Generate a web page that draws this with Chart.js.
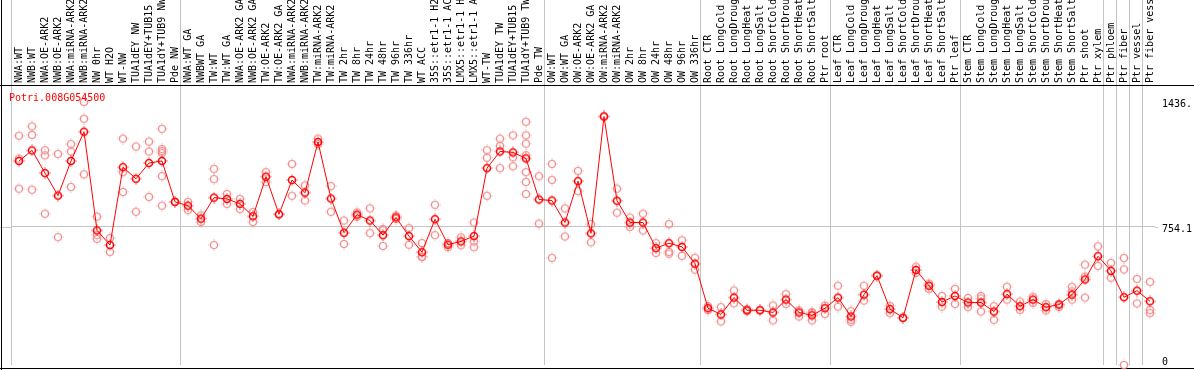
<!DOCTYPE html>
<html>
<head>
<meta charset="utf-8">
<script src="https://cdn.jsdelivr.net/npm/chart.js@4.4.1/dist/chart.umd.min.js"></script>
<style>
html,body{margin:0;padding:0;background:#fff;overflow:hidden;}
canvas{display:block;}
</style>
</head>
<body>
<canvas id="c" width="1194" height="370"></canvas>
<script>
// ---------- data ----------
const chartTitle = 'Potri.008G054500';

const categories = [
  'NWA:WT','NWB:WT','NWA:OE-ARK2','NWB:OE-ARK2','NWA:miRNA-ARK2','NWB:miRNA-ARK2',
  'NW 0hr','WT H2O','WT-NW','TUA1dEY NW','TUA1dEY+TUB15 NW','TUA1dY+TUB9 NW','Pde NW',
  'NWA:WT GA','NWBWT GA','TW:WT','TW:WT GA','NWA:OE-ARK2 GA','NWB:OE-ARK2 GA','TW:OE-ARK2','TW:OE-ARK2 GA',
  'NWA:miRNA-ARK2 GA','NWB:miRNA-ARK2 GA','TW:miRNA-ARK2','TW:miRNA-ARK2 GA',
  'TW 2hr','TW 8hr','TW 24hr','TW 48hr','TW 96hr','TW 336hr',
  'WT ACC','35S::etr1-1 H2O','35S::etr1-1 ACC','LMX5::etr1-1 H2O','LMX5::etr1-1 ACC',
  'WT-TW','TUA1dEY TW','TUA1dEY+TUB15 TW','TUA1dY+TUB9 TW','Pde TW',
  'OW:WT','OW:WT GA','OW:OE-ARK2','OW:OE-ARK2 GA','OW:miRNA-ARK2','OW:miRNA-ARK2 GA',
  'OW 2hr','OW 8hr','OW 24hr','OW 48hr','OW 96hr','OW 336hr',
  'Root CTR','Root LongCold','Root LongDrought','Root LongHeat','Root LongSalt',
  'Root ShortCold','Root ShortDrought','Root ShortHeat','Root ShortSalt','Ptr root',
  'Leaf CTR','Leaf LongCold','Leaf LongDrought','Leaf LongHeat','Leaf LongSalt',
  'Leaf ShortCold','Leaf ShortDrought','Leaf ShortHeat','Leaf ShortSalt','Ptr leaf',
  'Stem CTR','Stem LongCold','Stem LongDrought','Stem LongHeat','Stem LongSalt',
  'Stem ShortCold','Stem ShortDrought','Stem ShortHeat','Stem ShortSalt','Ptr shoot',
  'Ptr xylem','Ptr phloem','Ptr fiber','Ptr vessel','Ptr fiber vessel'
];

const meanValues = [
  1114,1172,1048,925,1114,1274,735,655,1080,1017,1103,1114,891,
  870,799,914,907,880,812,1028,823,
  1010,941,1218,909,
  722,821,789,709,806,704,
  616,796,657,675,704,
  1075,1166,1161,1128,904,
  898,778,1004,719,1357,897,
  778,778,638,665,645,553,
  310,276,368,299,299,287,357,287,271,310,
  368,265,384,488,305,258,519,433,344,377,
  341,341,292,387,321,357,316,330,384,467,
  594,514,370,406,348
];

const replicateValues = [
  [1252,963,1127],[1303,1256,957],[1173,1145,826],[1152,698],[1206,1166,972],[1436,1345,1041],
  [810,711,689],[693,618],[1236,1053,945],[1193,837],[1220,1166,918],[1290,1179,1168,1157,1031,870],[891],
  [891,846],[817,781],[1071,1015,655],[934,880],[907,851],[835,781],[1053,999],[823],
  [1098,924],[981,898],[1236,1206],[977,837],
  [789,661],[833,810],[855,720],[742,736,650],[816,797],[747,657],
  [666,591,591],[875,709],[666,643],[697,654],[778,675,643],
  [1173,1132,924],[1236,1196,1075],[1254,1134,1085],[1328,1254,1209,1146,1053,999,934],[1031,772],
  [1098,1011,585],[855,702],[1060,950],[769,670],[1357],[963,832],
  [805,754],[826,735],[665,612],[769,608,618],[681,596],[585,521],
  [321,299],[316,238],[407,337],[305,294],[299],[325,244],[387,333],[298,265],[283,244,289],[325,279],
  [433,319],[294,247,236],[433,352],[488],[323,283],[258],[537,503],[445,414],[377,319],[416,333],
  [366,316],[377,363,292],[321,247],[427,357],[346,301],[373,339],[298,333],[333,316],[427,402,357],[548,483,368],
  [648,541],[558,477],[584,522,0],[470,336],[454,301,283]
];

// first category index after each group separator (plus left and right edges)
const separatorIndices = [0,13,41,53,63,73,84,85,86,87,88];
const yTickValues = [0, 754.1, 1436];
const yTickLabels = ['0', '754.1', '1436.'];
const yMax = 1529;

// ---------- marker images ----------
function makeMarker(color, lw) {
  const c = document.createElement('canvas');
  c.width = 12; c.height = 12;
  const g = c.getContext('2d');
  g.strokeStyle = color; g.lineWidth = lw;
  g.beginPath(); g.arc(6, 6, 3.5, 0, Math.PI * 2); g.stroke();
  g.fillStyle = color;
  g.fillRect(5.5, 0.5, 1, 1); g.fillRect(5.5, 10.5, 1, 1);
  g.fillRect(0.5, 5.5, 1, 1); g.fillRect(10.5, 5.5, 1, 1);
  return c;
}
const meanMarker = makeMarker('#ff0000', 1.5);
const repMarker = makeMarker('#f08a8a', 1.2);

const meanPoints = meanValues.map((v, i) => ({x: i, y: v}));
const repPoints = [];
replicateValues.forEach((arr, i) => arr.forEach(v => repPoints.push({x: i, y: v})));

const sepSet = new Set(separatorIndices);
const GRID = '#c4c4c4';
const MONO = "'DejaVu Sans Mono', 'Liberation Mono', monospace";

const decorPlugin = {
  id: 'decor',
  beforeDatasetsDraw(chart) {
    const ctx = chart.ctx;
    const ys = chart.scales.y;
    const ca = chart.chartArea;
    ctx.save();
    const gy = Math.round(ys.getPixelForValue(754.1)) + 0.5;
    ctx.strokeStyle = GRID; ctx.lineWidth = 1;
    ctx.beginPath();
    ctx.moveTo(0, gy); ctx.lineTo(ca.left, gy);
    ctx.moveTo(ca.right, gy); ctx.lineTo(ca.right + 3, gy);
    ctx.stroke();
    ctx.fillStyle = '#000';
    ctx.fillRect(0, 85, chart.width, 1);
    ctx.fillRect(0, 368, chart.width, 1);
    ctx.fillRect(1, 0, 1, chart.height);
    ctx.restore();
  },
  afterDraw(chart) {
    const ctx = chart.ctx;
    const ys = chart.scales.y;
    ctx.save();
    ctx.font = '10px ' + MONO;
    ctx.fillStyle = '#000';
    ctx.textBaseline = 'middle';
    ctx.textAlign = 'left';
    yTickValues.forEach((v, i) => {
      let y = ys.getPixelForValue(v) + 2.5;
      if (y > chart.height - 8) y = chart.height - 8;
      ctx.fillText(yTickLabels[i], chart.chartArea.right + 7, y);
    });
    ctx.fillStyle = '#ff0000';
    ctx.textBaseline = 'alphabetic';
    ctx.fillText(chartTitle, 9, 100.5);
    ctx.restore();
  }
};

new Chart(document.getElementById('c'), {
  type: 'scatter',
  data: {
    datasets: [
      {
        label: 'mean', data: meanPoints, xAxisID: 'xl', yAxisID: 'y',
        showLine: true, borderColor: '#ff0000', borderWidth: 1, tension: 0,
        pointStyle: meanMarker, pointRadius: 4, clip: false, order: 0
      },
      {
        label: 'replicates', data: repPoints, xAxisID: 'xl', yAxisID: 'y',
        showLine: false, pointStyle: repMarker, pointRadius: 4, clip: false, order: 1
      }
    ]
  },
  options: {
    responsive: false,
    animation: false,
    devicePixelRatio: 1,
    layout: { padding: { left: 11, right: 0, top: 0, bottom: 1.5 } },
    plugins: { legend: { display: false }, tooltip: { enabled: false }, title: { display: false } },
    scales: {
      x: {
        type: 'category', labels: categories, position: 'top', offset: true,
        grid: {
          offset: true, lineWidth: 1, tickLength: 85,
          color: ctx => sepSet.has(ctx.index) ? GRID : 'rgba(0,0,0,0)'
        },
        border: { display: false },
        ticks: {
          autoSkip: false, maxRotation: 90, minRotation: 90, padding: -83,
          labelOffset: 13.5, color: '#000', font: { family: MONO, size: 10 }
        },
        afterFit: s => { s.height = 85; }
      },
      xl: { type: 'linear', display: false, min: -8 / 13, max: categories.length - 8 / 13 },
      y: {
        type: 'linear', position: 'right', min: 0, max: yMax,
        afterBuildTicks: s => { s.ticks = yTickValues.map(v => ({value: v})); },
        grid: {
          drawTicks: false, lineWidth: 1,
          color: ctx => (ctx.tick && ctx.tick.value === 754.1) ? GRID : 'rgba(0,0,0,0)'
        },
        border: { display: false },
        ticks: { display: false },
        afterFit: s => { s.width = 39; }
      }
    }
  },
  plugins: [decorPlugin]
});
</script>
</body>
</html>
